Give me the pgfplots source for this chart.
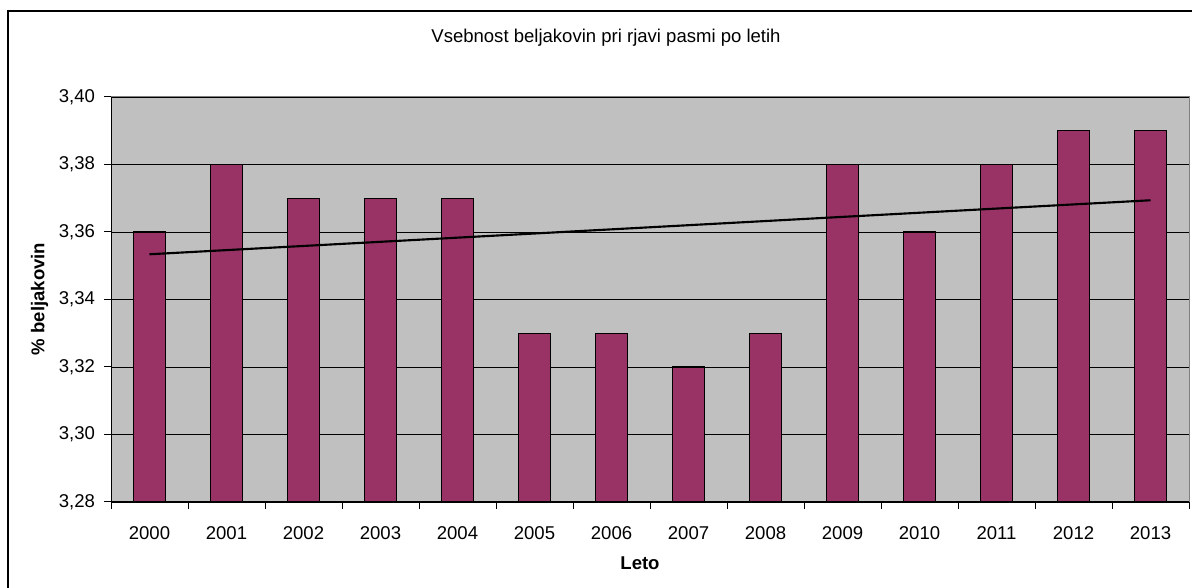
\documentclass[border=0pt]{standalone}
\usepackage{pgfplots}
\pgfplotsset{compat=1.18}
\usepackage{fontspec}
\setmainfont{Liberation Sans}

\definecolor{plotgray}{HTML}{C0C0C0}
\definecolor{barred}{HTML}{993366}
\definecolor{edgegray}{HTML}{808080}

\begin{document}
\begin{tikzpicture}
\fontsize{13.9pt}{16.5pt}\selectfont
\useasboundingbox (0pt,0pt) rectangle (894pt,441pt);
% outer chart frame (only top and left lie inside the picture)
\draw[black, line width=0.9pt] (6pt,-5pt) -- (6pt,432.75pt) -- (900pt,432.75pt);

\node at (454.5pt,412.5pt) {Vsebnost beljakovin pri rjavi pasmi po letih};
\node[font=\bfseries] at (480pt,18.75pt) {Leto};
\node[font=\bfseries, rotate=90] at (29.6pt,216.75pt) {\% beljakovin};

\begin{axis}[
  scale only axis,
  width=808.5pt, height=303.75pt,
  at={(83.25pt,64.5pt)}, anchor=south west,
  xmin=-0.5, xmax=13.5,
  ymin=3.28, ymax=3.40,
  ytick={3.28,3.30,3.32,3.34,3.36,3.38,3.40},
  xtick={0,...,13},
  xticklabels={2000,2001,2002,2003,2004,2005,2006,2007,2008,2009,2010,2011,2012,2013},
  minor xtick={-0.5,0.5,...,13.5},
  major x tick style={draw=none},
  tick pos=left,
  tick align=outside,
  major tick length=5.25pt,
  minor tick length=5.25pt,
  tick style={black, line width=0.75pt},
  xticklabel style={yshift=-8pt},
  yticklabel style={xshift=-2pt},
  ymajorgrids,
  grid style={black, line width=0.6pt},
  axis background/.style={fill=plotgray},
  axis line style={edgegray, line width=0.75pt},
  /pgf/number format/.cd, fixed, fixed zerofill, precision=2, use comma, assume math mode=true,
]
\addplot[ybar, bar width=0.42, bar shift=0pt, fill=barred, draw=black, line width=0.9pt]
  coordinates {(0,3.36) (1,3.38) (2,3.37) (3,3.37) (4,3.37) (5,3.33) (6,3.33)
               (7,3.32) (8,3.33) (9,3.38) (10,3.36) (11,3.38) (12,3.39) (13,3.39)};
\addplot[black, line width=1.6pt, mark=none] coordinates {(0,3.3534) (13,3.3694)};
\draw[black, line width=0.9pt] (rel axis cs:0,1) -- (rel axis cs:0,0) -- (rel axis cs:1,0);
\end{axis}
\end{tikzpicture}
\end{document}
